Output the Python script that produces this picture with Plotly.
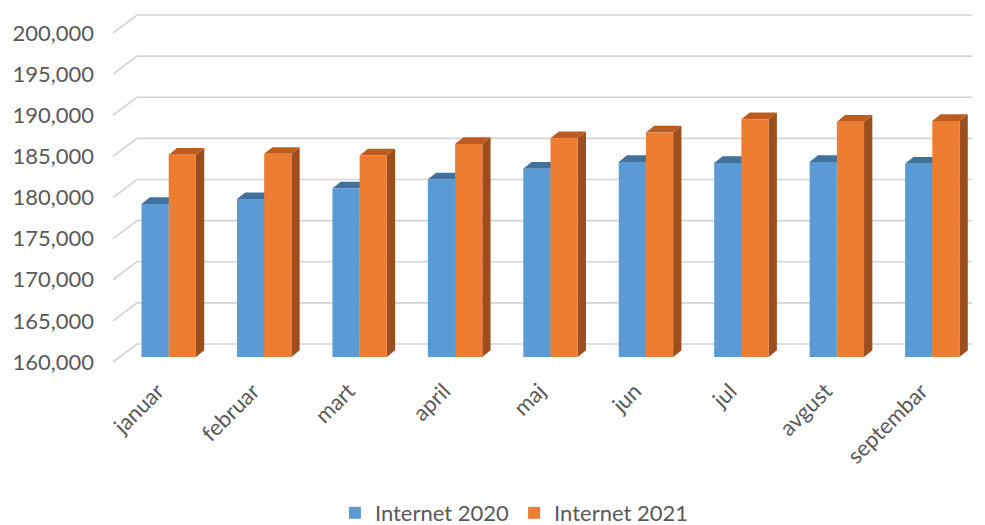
import plotly.graph_objects as go

months = ["januar", "februar", "mart", "april", "maj", "jun", "jul", "avgust", "septembar"]
internet_2020 = [178600, 179200, 180500, 181600, 182900, 183700, 183600, 183700, 183500]
internet_2021 = [184600, 184700, 184500, 185900, 186600, 187300, 188900, 188600, 188700]
y_ticks = [160000, 165000, 170000, 175000, 180000, 185000, 190000, 195000, 200000]
series_names = ["Internet 2020", "Internet 2021"]

BLUE, BLUE_TOP = "#5B9BD5", "#41719C"
ORANGE, ORANGE_TOP, ORANGE_SIDE = "#ED7D31", "#BE5C20", "#9C4E1E"
TXT = "#595959"

W, H = 985, 525
L, R, T, B = 121, 5, 10, 160
plot_w = W - L - R
plot_h = H - T - B
px_per_x = plot_w / 9.0
px_per_k = 8.225  # pixels per 1000 units

BASE = 160000
# label axis (front plane)
y_lo = BASE - (H - B - 362) / px_per_k * 1000
y_hi = y_lo + plot_h / px_per_k * 1000
# bar axis (bars sit 5px behind the front plane)
shift = 5 / px_per_k * 1000
y2_lo, y2_hi = y_lo - shift, y_hi - shift
# category-label axis (front plane, shifted left)
xshift = 11 / px_per_x

bargap = 0.43
bw = (1 - bargap) / 2
dx = 8.3 / px_per_x
dy = 6.7 / px_per_k * 1000

xs = list(range(len(months)))

fig = go.Figure()
fig.add_trace(go.Scatter(x=[0], y=[BASE], mode="markers", marker=dict(opacity=0),
                         showlegend=False, hoverinfo="skip", xaxis="x", yaxis="y"))
fig.add_trace(go.Scatter(x=[0], y=[BASE], mode="markers", marker=dict(opacity=0),
                         showlegend=False, hoverinfo="skip", xaxis="x2", yaxis="y"))
for name, vals, col in [(series_names[0], internet_2020, BLUE), (series_names[1], internet_2021, ORANGE)]:
    fig.add_trace(go.Bar(x=xs, y=[v - BASE for v in vals], base=BASE, name=name,
                         marker=dict(color=col, line=dict(width=0)), xaxis="x", yaxis="y2",
                         hoverinfo="skip"))

shapes = []
# back-wall gridlines with 3D diagonal on the left
back_off = 18 / px_per_k * 1000
def pxp(p):
    return (p - L) / plot_w
for v in y_ticks:
    shapes.append(dict(type="path", xref="paper", yref="y", layer="below",
                       path=f"M {pxp(113)},{v} L {pxp(137)},{v + back_off} L {pxp(972)},{v + back_off}",
                       line=dict(color="#D4D4D4", width=1.6)))

# 3D top and side faces (drawn below the bar fronts)
for i in xs:
    for k, (vals, top, side) in enumerate([(internet_2020, BLUE_TOP, BLUE_TOP), (internet_2021, ORANGE_TOP, ORANGE_SIDE)]):
        v = vals[i]
        x0 = i - bw + k * bw
        x1 = x0 + bw
        shapes.append(dict(type="path", xref="x", yref="y2", layer="below",
                           path=f"M {x1},{BASE} L {x1 + dx},{BASE + dy} L {x1 + dx},{v + dy} L {x1},{v} Z",
                           fillcolor=side, line=dict(width=0)))
        shapes.append(dict(type="path", xref="x", yref="y2", layer="below",
                           path=f"M {x0},{v} L {x1},{v} L {x1 + dx},{v + dy} L {x0 + dx},{v + dy} Z",
                           fillcolor=top, line=dict(width=0)))

fig.update_layout(
    width=W, height=H,
    margin=dict(l=L, r=R, t=T, b=B, autoexpand=False),
    paper_bgcolor="white", plot_bgcolor="rgba(0,0,0,0)",
    font=dict(family="Lato, Liberation Sans, sans-serif", color=TXT),
    barmode="group", bargap=bargap, bargroupgap=0,
    shapes=shapes,
    xaxis=dict(range=[-0.5, 8.5], showticklabels=False,
               showgrid=False, zeroline=False, showline=False, automargin=False, ticks=""),
    xaxis2=dict(range=[-0.5 + xshift, 8.5 + xshift], overlaying="x", side="bottom", anchor="y",
                tickvals=xs, ticktext=months, tickangle=-45,
                showgrid=False, zeroline=False, showline=False, automargin=False,
                ticks="", ticklabelstandoff=8, tickfont=dict(size=22, color=TXT)),
    yaxis=dict(range=[y_lo, y_hi], tickvals=y_ticks, tickformat=",d",
               showgrid=False, zeroline=False, showline=False, automargin=False,
               ticklabelstandoff=26, tickfont=dict(size=22, color=TXT)),
    yaxis2=dict(range=[y2_lo, y2_hi], overlaying="y", visible=False,
                showgrid=False, zeroline=False, automargin=False),
    legend=dict(orientation="h", x=0.458, xanchor="center", y=-(513 - (H - B)) / plot_h, yanchor="middle",
                font=dict(size=22, color=TXT), itemwidth=30, traceorder="normal"),
    showlegend=True,
)

fig.write_html("out.html", config={"displayModeBar": False},
               post_script="document.body.style.margin='0';document.body.style.overflow='hidden';")
